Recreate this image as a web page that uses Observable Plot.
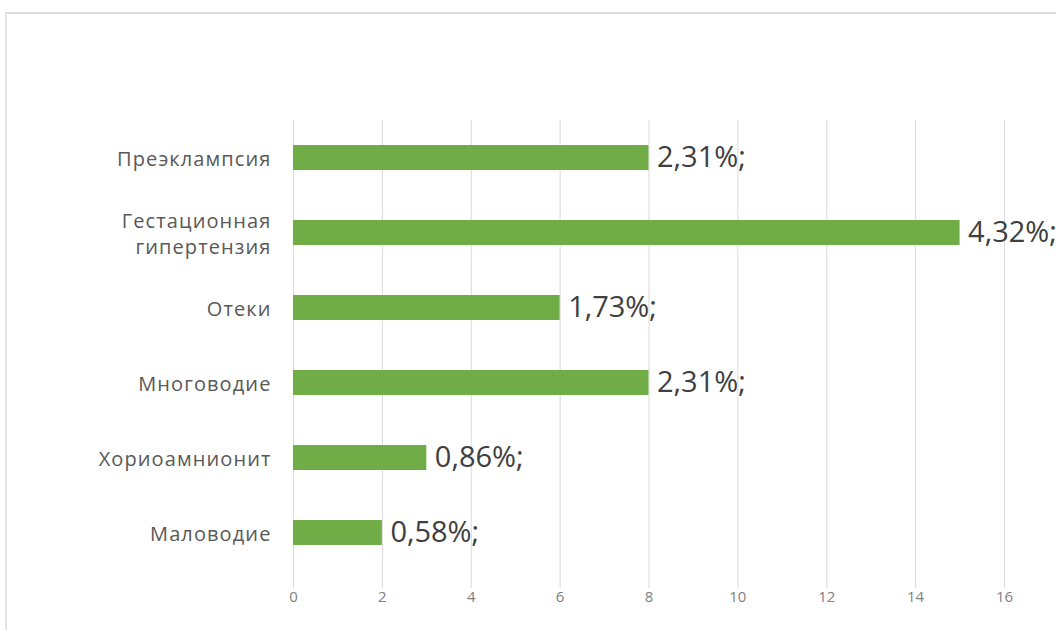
<!DOCTYPE html>
<html>
<head>
<meta charset="utf-8">
<script src="https://cdn.jsdelivr.net/npm/d3@7"></script>
<script src="https://cdn.jsdelivr.net/npm/@observablehq/plot@0.6"></script>
<style>
  html, body { margin: 0; padding: 0; background: #fff; overflow: hidden; }
  #wrap { position: relative; width: 1056px; height: 630px; }
  #frame { position: absolute; left: 5px; top: 12px; width: 1100px; height: 700px;
           border-top: 2px solid #dcdcdc; border-left: 2px solid #e4e4e4; pointer-events: none; }
  .yax text { letter-spacing: 1.1px; }
</style>
</head>
<body>
<div id="wrap"><div id="frame"></div></div>
<script>
const categories = ["Преэклампсия", "Гестационная\nгипертензия", "Отеки", "Многоводие", "Хориоамнионит", "Маловодие"];
const values = [8, 15, 6, 8, 3, 2];
const labels = ["2,31%;", "4,32%;", "1,73%;", "2,31%;", "0,86%;", "0,58%;"];
const xTicks = [0, 2, 4, 6, 8, 10, 12, 14, 16];

const data = categories.map((c, i) => ({category: c, value: values[i], label: labels[i]}));

const chart = Plot.plot({
  width: 1056,
  height: 630,
  marginLeft: 293,
  marginRight: 52,
  marginTop: 120,
  marginBottom: 42,
  style: {fontFamily: "'Open Sans', sans-serif", background: "transparent", overflow: "visible"},
  x: {domain: [0, 16], ticks: xTicks, label: null},
  y: {domain: categories, range: [120, 570], paddingInner: 0.667, paddingOuter: 0.333, label: null},
  marks: [
    Plot.ruleX(xTicks, {stroke: "#d9d9d9", strokeWidth: 1}),
    Plot.barX(data, {y: "category", x: "value", fill: "#70ad47"}),
    Plot.text(data, {y: "category", x: "value", text: "label", textAnchor: "start", dx: 8,
                     fontSize: 29, fill: "#404040"}),
    Plot.axisX({ticks: xTicks, tickSize: 0, tickPadding: 3, fontSize: 15, fill: "#808080", label: null}),
    Plot.axisY({tickSize: 0, tickPadding: 22, fontSize: 20, fill: "#595959", label: null,
                lineHeight: 1.3, className: "yax"})
  ]
});
document.getElementById("wrap").prepend(chart);
</script>
</body>
</html>
